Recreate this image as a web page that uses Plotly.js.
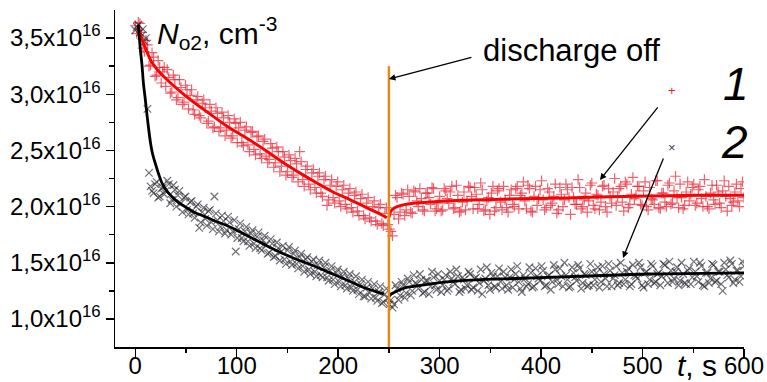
<!DOCTYPE html>
<html>
<head>
<meta charset="utf-8">
<script src="https://cdn.plot.ly/plotly-3.0.1.min.js"></script>
<style>html,body{margin:0;padding:0;background:#fff;}</style>
</head>
<body>
<div id="chart" style="width:767px;height:382px;"></div>
<script>
// time, s (sampling of the measured points, first interleaved set)
const tPoints = [
  0,3,6,9,12,15,18,21,24,27, 30,33,36,39,42,45,48,51,54,57,
  60,63,66,69,72,75,78,81,84,87, 90,93,96,99,102,105,108,111,114,117,
  120,123,126,129,132,135,138,141,144,147, 150,153,156,159,162,165,168,171,174,177,
  180,183,186,189,192,195,198,201,204,207, 210,213,216,219,222,225,228,231,234,237,
  240,243,246,249,252,255,258,261,264,267, 270,273,276,279,282,285,288,291,294,297,
  300,303,306,309,312,315,318,321,324,327, 330,333,336,339,342,345,348,351,354,357,
  360,363,366,369,372,375,378,381,384,387, 390,393,396,399,402,405,408,411,414,417,
  420,423,426,429,432,435,438,441,444,447, 450,453,456,459,462,465,468,471,474,477,
  480,483,486,489,492,495,498,501,504,507, 510,513,516,519,522,525,528,531,534,537,
  540,543,546,549,552,555,558,561,564,567, 570,573,576,579,582,585,588,591,594,597,
  600
];
// second interleaved set of sampling times
const tPointsB = [
  1.5,4.5,7.5,10.5,13.5,16.5,19.5,22.5,25.5,28.5, 31.5,34.5,37.5,40.5,43.5,46.5,49.5,52.5,55.5,58.5,
  61.5,64.5,67.5,70.5,73.5,76.5,79.5,82.5,85.5,88.5, 91.5,94.5,97.5,100.5,103.5,106.5,109.5,112.5,115.5,118.5,
  121.5,124.5,127.5,130.5,133.5,136.5,139.5,142.5,145.5,148.5, 151.5,154.5,157.5,160.5,163.5,166.5,169.5,172.5,175.5,178.5,
  181.5,184.5,187.5,190.5,193.5,196.5,199.5,202.5,205.5,208.5, 211.5,214.5,217.5,220.5,223.5,226.5,229.5,232.5,235.5,238.5,
  241.5,244.5,247.5,250.5,253.5,256.5,259.5,262.5,265.5,268.5, 271.5,274.5,277.5,280.5,283.5,286.5,289.5,292.5,295.5,298.5,
  301.5,304.5,307.5,310.5,313.5,316.5,319.5,322.5,325.5,328.5, 331.5,334.5,337.5,340.5,343.5,346.5,349.5,352.5,355.5,358.5,
  361.5,364.5,367.5,370.5,373.5,376.5,379.5,382.5,385.5,388.5, 391.5,394.5,397.5,400.5,403.5,406.5,409.5,412.5,415.5,418.5,
  421.5,424.5,427.5,430.5,433.5,436.5,439.5,442.5,445.5,448.5, 451.5,454.5,457.5,460.5,463.5,466.5,469.5,472.5,475.5,478.5,
  481.5,484.5,487.5,490.5,493.5,496.5,499.5,502.5,505.5,508.5, 511.5,514.5,517.5,520.5,523.5,526.5,529.5,532.5,535.5,538.5,
  541.5,544.5,547.5,550.5,553.5,556.5,559.5,562.5,565.5,568.5, 571.5,574.5,577.5,580.5,583.5,586.5,589.5,592.5,595.5,598.5
];
// series 1 (red +), N_O2 in units of 1e16 cm^-3
const series1 = [
  3.61,3.64,3.55,3.38,3.44,3.26,3.33,3.17,3.24,3.20, 3.07,3.15,3.02,3.13,2.97,3.06,2.93,3.04,2.99,2.86,
  2.95,2.81,2.92,2.88,2.76,2.85,2.71,2.83,2.70,2.79, 2.68,2.75,2.63,2.74,2.70,2.57,2.68,2.55,2.66,2.51,
  2.62,2.47,2.58,2.45,2.42,2.52,2.39,2.49,2.36,2.44, 2.31,2.41,2.28,2.38,2.49,2.24,2.33,2.20,2.30,2.17,
  2.27,2.12,2.24,2.01,2.19,2.08,2.18,2.05,2.15,2.02, 2.12,1.99,2.10,1.96,2.07,1.92,2.03,1.90,2.00,1.87,
  1.99,1.85,1.94,1.84,1.78,1.93,2.08,1.95,2.11,1.97, 2.09,1.94,2.13,2.00,2.07,1.96,2.12,2.02,2.16,1.98,
  2.09,1.97,2.14,2.03,2.18,1.99,2.10,1.96,2.13,2.05, 2.17,1.98,2.11,2.02,2.15,1.97,2.08,2.12,1.96,2.14,
  2.04,2.18,1.99,2.10,2.02,2.16,1.98,2.12,2.05,2.19, 1.96,2.09,2.01,2.15,2.06,1.99,2.13,2.03,2.20,1.97,
  2.11,2.06,2.15,1.93,2.08,2.02,2.17,2.00,2.12,2.05, 2.21,1.98,2.10,2.04,2.19,1.95,2.09,2.13,2.01,2.16,
  2.04,2.22,1.99,2.11,2.07,2.18,2.02,2.14,2.00,2.17, 2.06,2.23,1.99,2.12,2.04,2.19,2.02,2.14,2.08,2.20,
  1.98,2.13,2.05,2.17,2.01,2.15,2.07,2.24,2.00,2.12, 2.06,2.19,2.03,2.14,2.09,2.18,2.01,2.13,2.05,2.16,
  2.08
];
const series1B = [
  3.54,3.63,3.41,3.48,3.25,3.37,3.16,3.30,3.10,3.24, 3.22,3.01,3.17,2.95,3.13,2.91,3.08,2.87,3.04,2.82,
  2.98,2.79,2.95,2.74,2.91,2.70,2.88,2.67,2.84,2.63, 2.81,2.61,2.78,2.57,2.75,2.54,2.71,2.49,2.67,2.46,
  2.63,2.43,2.60,2.39,2.56,2.35,2.53,2.31,2.49,2.28, 2.46,2.26,2.43,2.22,2.40,2.18,2.36,2.15,2.33,2.12,
  2.30,2.09,2.27,2.06,2.24,2.03,2.22,2.00,2.19,1.98, 2.16,1.95,2.13,1.92,2.11,1.89,2.08,1.87,2.05,1.84,
  2.02,1.83,1.99,1.80,1.74,2.10,1.89,2.12,1.92,2.15, 1.95,2.14,2.05,2.16,1.97,2.12,2.08,2.17,1.96,2.03,
  1.96,2.16,2.07,2.13,1.98,2.19,1.95,2.04,1.97,2.18, 2.09,2.17,1.98,2.21,1.96,2.05,1.93,2.18,1.99,2.16,
  1.97,2.06,1.95,2.15,2.00,2.18,2.10,2.22,1.98,2.16, 1.95,2.18,2.07,2.23,1.97,2.16,2.01,2.09,1.94,2.17,
  2.00,2.20,2.08,2.17,2.02,2.24,1.98,2.06,1.95,2.19, 2.01,2.11,1.97,2.18,2.00,2.16,2.03,2.25,2.09,2.18,
  1.96,2.20,2.02,2.26,2.10,2.18,2.01,2.22,1.97,2.07, 2.02,2.23,1.98,2.12,2.00,2.21,2.03,2.27,1.99,2.08,
  2.01,2.22,2.11,2.20,2.03,2.18,2.00,2.09,1.98,2.19, 2.02,2.13,1.99,2.23,1.96,2.07,2.04,2.20,2.00,2.22
];
// series 2 (black x)
const series2 = [
  3.57,3.62,3.52,3.47,2.87,2.18,2.12,2.22,2.09,2.17, 2.14,2.20,2.06,2.15,2.10,2.03,2.08,1.97,2.04,1.94,
  2.00,1.81,1.95,1.89,1.96,1.86,2.09,1.88,1.82,1.87, 1.79,1.86,1.78,1.60,1.80,1.72,1.78,1.69,1.76,1.67,
  1.73,1.63,1.70,1.66,1.59,1.67,1.56,1.63,1.60,1.53, 1.61,1.51,1.58,1.49,1.55,1.47,1.53,1.44,1.51,1.42,
  1.48,1.39,1.46,1.37,1.43,1.35,1.41,1.33,1.38,1.30, 1.36,1.28,1.33,1.26,1.31,1.20,1.28,1.23,1.27,1.19,
  1.24,1.14,1.22,1.18,1.17,1.13,1.27,1.21,1.30,1.23, 1.33,1.25,1.32,1.27,1.35,1.24,1.34,1.29,1.37,1.26,
  1.34,1.30,1.39,1.27,1.36,1.31,1.38,1.26,1.35,1.30, 1.40,1.28,1.37,1.32,1.22,1.36,1.30,1.41,1.29,1.38,
  1.33,1.42,1.30,1.37,1.28,1.40,1.33,1.24,1.36,1.31, 1.41,1.29,1.38,1.34,1.43,1.30,1.39,1.33,1.44,1.31,
  1.38,1.50,1.35,1.29,1.41,1.34,1.45,1.32,1.39,1.30, 1.42,1.35,1.46,1.33,1.40,1.29,1.43,1.36,1.47,1.32,
  1.41,1.35,1.45,1.31,1.39,1.36,1.46,1.28,1.42,1.35, 1.47,1.33,1.41,1.38,1.48,1.32,1.43,1.36,1.46,1.34,
  1.40,1.31,1.45,1.37,1.42,1.33,1.47,1.29,1.41,1.36, 1.48,1.34,1.42,1.25,1.44,1.37,1.49,1.35,1.43,1.38,
  1.47
];
const series2B = [
  3.60,3.55,3.58,3.50,2.30,2.14,2.20,2.08,2.16,2.11, 2.23,2.03,2.19,2.00,2.14,1.95,2.09,1.93,2.05,1.90,
  2.02,1.86,1.99,1.83,1.97,1.80,1.94,1.78,1.92,1.76, 1.91,1.75,1.88,1.72,1.85,1.69,1.82,1.65,1.79,1.63,
  1.77,1.61,1.74,1.58,1.71,1.55,1.68,1.52,1.65,1.49, 1.64,1.48,1.61,1.45,1.58,1.42,1.55,1.40,1.53,1.38,
  1.52,1.37,1.50,1.34,1.47,1.31,1.44,1.29,1.42,1.27, 1.40,1.25,1.38,1.22,1.35,1.20,1.33,1.18,1.31,1.16,
  1.29,1.15,1.27,1.13,1.10,1.30,1.17,1.33,1.19,1.36, 1.21,1.39,1.31,1.40,1.23,1.34,1.22,1.42,1.30,1.40,
  1.24,1.35,1.25,1.42,1.33,1.44,1.24,1.37,1.27,1.42, 1.26,1.36,1.25,1.44,1.34,1.46,1.26,1.38,1.28,1.45,
  1.27,1.37,1.26,1.44,1.35,1.47,1.27,1.39,1.29,1.46, 1.28,1.45,1.36,1.47,1.29,1.38,1.26,1.48,1.35,1.45,
  1.29,1.39,1.28,1.46,1.37,1.48,1.27,1.40,1.29,1.49, 1.30,1.41,1.28,1.47,1.36,1.49,1.29,1.39,1.30,1.50,
  1.31,1.42,1.29,1.48,1.38,1.50,1.30,1.41,1.31,1.49, 1.32,1.40,1.30,1.49,1.39,1.51,1.33,1.42,1.30,1.50,
  1.32,1.43,1.31,1.51,1.38,1.50,1.30,1.41,1.32,1.49, 1.33,1.42,1.31,1.50,1.39,1.52,1.32,1.43,1.33,1.51
];
// fitted curves
const fit1OnX  = [3,5,10,16,23,30,43,56,72,89,105,115,130,146,162,179,195,212,228,243,248];
const fit1OnY  = [3.60,3.53,3.41,3.29,3.205,3.14,3.035,2.94,2.835,2.725,2.635,2.58,2.49,2.39,2.30,2.21,2.13,2.06,1.99,1.925,1.90];
const fit1OffX = [250,251,252,254,258,264,274,290,307,340,379,440,507,560,600];
const fit1OffY = [1.90,1.94,1.96,1.98,2.00,2.015,2.03,2.04,2.05,2.06,2.07,2.08,2.095,2.10,2.10];
const fit2OnX  = [3,5,6.6,8,9.8,12,14.8,17,19.7,23,26.3,31,36,42,49,58,69,79,89,100,113,130,146,162,179,192,205,215,225,235,245];
const fit2OnY  = [3.62,3.40,3.26,3.10,2.96,2.78,2.58,2.47,2.385,2.29,2.21,2.14,2.09,2.04,2.00,1.95,1.91,1.87,1.836,1.79,1.73,1.65,1.58,1.52,1.46,1.41,1.36,1.32,1.28,1.25,1.22];
const fit2OffX = [250,252,256,261,267,274,290,307,340,376,440,507,560,600];
const fit2OffY = [1.20,1.22,1.24,1.26,1.28,1.29,1.31,1.33,1.35,1.36,1.38,1.40,1.405,1.41];

const dischargeOffT = 250;
const yTickVals = [1.0,1.5,2.0,2.5,3.0,3.5];
const yTickText = ["1,0x10<sup>16</sup>","1,5x10<sup>16</sup>","2,0x10<sup>16</sup>","2,5x10<sup>16</sup>","3,0x10<sup>16</sup>","3,5x10<sup>16</sup>"];
const yMinorVals = [1.25,1.75,2.25,2.75,3.25];

const FONT = "Liberation Sans, Arial, sans-serif";
const red = "rgb(255,0,0)";
const redMark = "rgba(235,30,45,0.7)";
const blackMark = "rgba(35,35,45,0.65)";
const mk = (sym, c) => ({symbol:sym, size:7.5, color:c, line:{width:1.2, color:c}});
const traces = [
  {x:tPoints, y:series1, type:"scatter", mode:"markers", marker:mk("cross-thin-open", redMark)},
  {x:tPointsB, y:series1B, type:"scatter", mode:"markers", marker:mk("cross-thin-open", redMark)},
  {x:tPoints, y:series2, type:"scatter", mode:"markers", marker:mk("x-thin-open", blackMark)},
  {x:tPointsB, y:series2B, type:"scatter", mode:"markers", marker:mk("x-thin-open", blackMark)},
  {x:fit1OnX, y:fit1OnY, type:"scatter", mode:"lines", line:{color:red, width:3, shape:"spline"}},
  {x:fit1OffX, y:fit1OffY, type:"scatter", mode:"lines", line:{color:red, width:3, shape:"spline"}},
  {x:fit2OnX, y:fit2OnY, type:"scatter", mode:"lines", line:{color:"#000", width:2.8, shape:"spline"}},
  {x:fit2OffX, y:fit2OffY, type:"scatter", mode:"lines", line:{color:"#000", width:2.8, shape:"spline"}}
];

const axisCommon = {
  showline:true, linecolor:"#000", linewidth:1.5, mirror:false,
  ticks:"outside", ticklen:8, tickwidth:1.5, tickcolor:"#000",
  showgrid:false, zeroline:false,
  tickfont:{family:FONT, size:24, color:"#000"}
};

const layout = {
  width:767, height:382,
  margin:{l:115, r:23, t:10, b:35},
  paper_bgcolor:"#fff", plot_bgcolor:"#fff",
  showlegend:false,
  font:{family:FONT, color:"#000"},
  xaxis:Object.assign({}, axisCommon, {
    range:[-20,600], tick0:0, dtick:100, ticklabelstandoff:-11,
    minor:{tick0:0, dtick:50, ticks:"outside", ticklen:4.5, tickwidth:1.5, tickcolor:"#000", showgrid:false}
  }),
  yaxis:Object.assign({}, axisCommon, {
    range:[0.75,3.75], tickmode:"array", tickvals:yTickVals, ticktext:yTickText,
    minor:{tickmode:"array", tickvals:yMinorVals, ticks:"outside", ticklen:4.5, tickwidth:1.5, tickcolor:"#000", showgrid:false}
  }),
  shapes:[
    {type:"line", xref:"x", yref:"y", x0:dischargeOffT, x1:dischargeOffT, y0:0.75, y1:3.25,
     line:{color:"rgb(228,138,20)", width:2.5}}
  ],
  annotations:[
    {xref:"x", yref:"y", x:dischargeOffT, y:3.135, ax:84, ay:-22, text:"", showarrow:true,
     arrowhead:2, arrowsize:1, arrowwidth:1.3, arrowcolor:"#000", standoff:0},
    {xref:"x", yref:"y", x:430, y:3.393, text:"discharge off", showarrow:false,
     font:{family:FONT, size:31, color:"#000"}, xanchor:"center", yanchor:"middle"},
    {xref:"paper", yref:"paper", x:(155-115)/629, y:(347-33)/337, xanchor:"left", yanchor:"middle",
     text:"<i>N</i><sub>o2</sub>, cm<sup>-3</sup>", showarrow:false, font:{family:FONT, size:30, color:"#000"}},
    {xref:"x", yref:"y", x:592, y:3.09, text:"<i>1</i>", showarrow:false, font:{family:FONT, size:46, color:"#000"}},
    {xref:"x", yref:"y", x:591, y:2.575, text:"<i>2</i>", showarrow:false, font:{family:FONT, size:46, color:"#000"}},
    {xref:"x", yref:"y", x:528.7, y:3.037, text:"+", showarrow:false, font:{family:FONT, size:13, color:"rgb(235,30,40)"}},
    {xref:"x", yref:"y", x:528.7, y:2.53, text:"×", showarrow:false, font:{family:FONT, size:13, color:"rgb(60,60,70)"}},
    {xref:"x", yref:"y", x:458, y:2.237, ax:59, ay:-74, text:"", showarrow:true,
     arrowhead:2, arrowsize:1, arrowwidth:1.3, arrowcolor:"#000", standoff:0},
    {xref:"x", yref:"y", x:480.7, y:1.543, ax:41, ay:-101, text:"", showarrow:true,
     arrowhead:2, arrowsize:1, arrowwidth:1.3, arrowcolor:"#000", standoff:0},
    {xref:"paper", yref:"paper", x:(697-115)/629, y:(347-365)/337, xanchor:"center", yanchor:"middle",
     text:"<i>t</i>, s", showarrow:false, font:{family:FONT, size:30, color:"#000"}}
  ]
};

Plotly.newPlot("chart", traces, layout, {displayModeBar:false, staticPlot:true});
</script>
</body>
</html>
